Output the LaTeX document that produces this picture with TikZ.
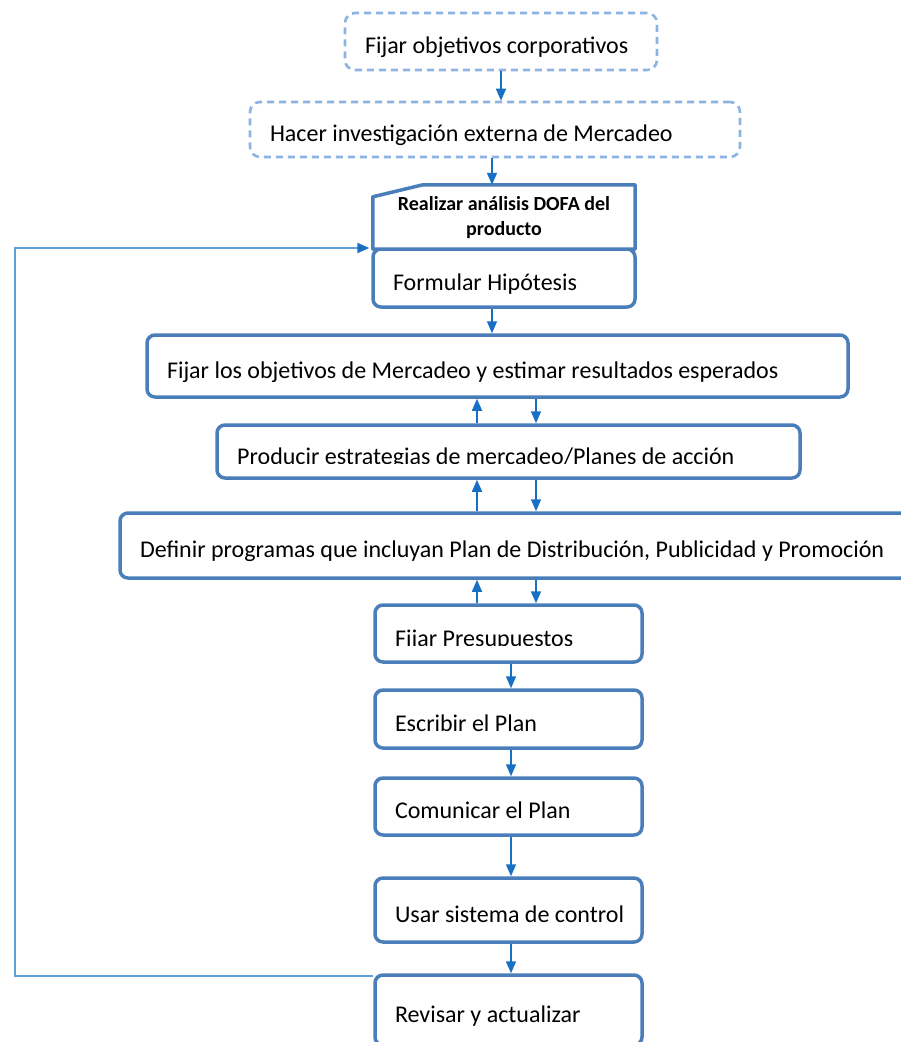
\documentclass[tikz,border=0pt]{standalone}
\usepackage{fontspec}
\setmainfont{Carlito}
\usetikzlibrary{arrows.meta,calc}

\definecolor{boxblue}{RGB}{74,126,187}
\definecolor{dashblue}{RGB}{141,179,226}
\definecolor{arrowblue}{RGB}{24,112,196}
\definecolor{loopblue}{RGB}{96,160,218}

\newcommand\bxfont{\fontsize{24}{27}\selectfont}
\newcommand\bxboldfont{\fontsize{20}{25}\selectfont\bfseries}

\tikzset{
  stagebox/.style={draw=boxblue, line width=3.5pt, rounded corners=8pt, fill=white,
    font=\bxfont, align=flush left, inner xsep=20pt, inner ysep=0pt,
    text height=24pt, text depth=0pt},
  goalbox/.style={draw=dashblue, line width=2.6pt, dash pattern=on 7pt off 5pt,
    rounded corners=10pt, fill=white, font=\bxfont, align=flush left, inner xsep=20pt, inner ysep=0pt,
    text height=24pt, text depth=0pt},
  flow/.style={draw=arrowblue, line width=1.6pt, -{Triangle[length=12pt,width=10pt]}},
  loopline/.style={draw=loopblue, line width=2pt, -{Triangle[length=12pt,width=10pt,color=arrowblue]}},
  plaintext/.style={font=\bxfont, inner sep=0pt, anchor=base west}
}

\begin{document}
\begin{tikzpicture}[x=1pt,y=-1pt]
\useasboundingbox (0,0) rectangle (901,1042);

% goal boxes (dashed)
\node[goalbox, text width=272pt, minimum height=57pt] (obj) at (501,41.5) {\mbox{Fijar objetivos corporativos}};
\node[goalbox, text width=450pt, minimum height=55pt] (inv) at (495,129.5) {Hacer investigación externa de Mercadeo};

% analysis box with cut corner and hypothesis box
\node[stagebox, text width=222pt, minimum height=58pt] (hip) at (504,278) {Formular Hipótesis};
\node[inner sep=0pt, minimum width=262pt, minimum height=64pt] (dofa) at (504,217) {};
\draw[boxblue, line width=3.5pt, line join=round, fill=white]
  ($(dofa.north west)+(0,12)$) -- ($(dofa.north west)+(50,0)$) -- (dofa.north east)
  -- (dofa.south east) -- (dofa.south west) -- cycle;
\node[font=\bxboldfont, align=center, inner sep=0pt] (dofatxt) at (504,218) {Realizar análisis DOFA del\\producto};

% main stages
\node[stagebox, text width=661pt, minimum height=62pt] (metas) at (497.5,366) {Fijar los objetivos de Mercadeo y estimar resultados esperados};
\node[stagebox, text width=543pt, minimum height=53pt] (estr) at (508.5,451.5) {};
\begin{scope}
  \clip (217,426) rectangle (800,463.5);
  \node[plaintext] (estrtxt) at (237,464) {Producir estrategias de mercadeo/Planes de acción};
\end{scope}
\node[stagebox, text width=755pt, minimum height=65pt] (prog) at (517.5,545.5) {\mbox{Definir programas que incluyan Plan de Distribución, Publicidad y Promoción}};
\node[stagebox, text width=227pt, minimum height=57pt] (pres) at (508.5,633.5) {};
\begin{scope}
  \clip (375,606) rectangle (642,645);
  \node[plaintext] (prestxt) at (395,646) {Fijar Presupuestos};
\end{scope}
\node[stagebox, text width=227pt, minimum height=58pt] (escr) at (508.5,719) {Escribir el Plan};
\node[stagebox, text width=227pt, minimum height=57pt] (com) at (508.5,806.5) {Comunicar el Plan};
\node[stagebox, text width=227pt, minimum height=64pt] (ctrl) at (508.5,910) {\mbox{Usar sistema de control}};
\node[stagebox, text width=227pt, minimum height=70pt] (rev) at (508.5,1010) {Revisar y actualizar};

% column positions of the connectors
\coordinate (c1) at (501,0);
\coordinate (c2) at (492,0);
\coordinate (cu) at (477,0);
\coordinate (cd) at (536,0);
\coordinate (cm) at (511,0);
\coordinate (back) at (15,248);

% top chain
\draw[flow] (obj.south -| c1) -- (inv.north -| c1);
\draw[flow] (inv.south -| c2) -- (dofa.north -| c2);
\draw[flow] (hip.south -| c2) -- (metas.north -| c2);

% two-way links
\draw[flow] (estr.north -| cu) -- (metas.south -| cu);
\draw[flow] (metas.south -| cd) -- (estr.north -| cd);
\draw[flow] (prog.north -| cu) -- (estr.south -| cu);
\draw[flow] (estr.south -| cd) -- (prog.north -| cd);
\draw[flow] (pres.north -| cu) -- (prog.south -| cu);
\draw[flow] (prog.south -| cd) -- (pres.north -| cd);

% lower chain
\draw[flow] (pres.south -| cm) -- (escr.north -| cm);
\draw[flow] (escr.south -| cm) -- (com.north -| cm);
\draw[flow] (com.south -| cm) -- (ctrl.north -| cm);
\draw[flow] (ctrl.south -| cm) -- (rev.north -| cm);

% feedback loop
\draw[loopline] ([yshift=-3pt]rev.north west) -| (back) -- ([xshift=-2pt]back -| hip.west);
\end{tikzpicture}
\end{document}
